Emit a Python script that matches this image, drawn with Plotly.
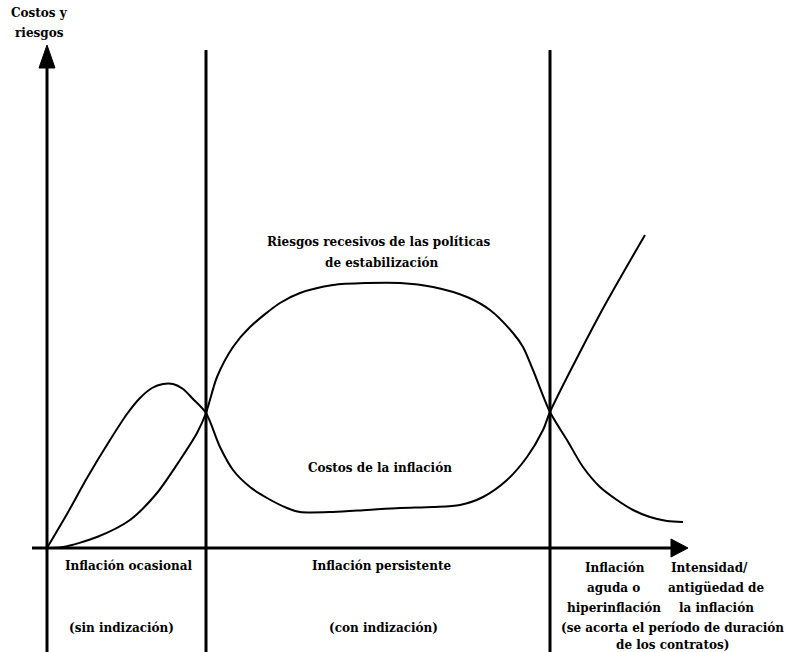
import plotly.graph_objects as go

# Curve values (x = intensity/age of inflation, y = costs and risks)
costos_x = [0, 20, 40, 63, 80, 93, 105, 116, 126, 136, 146, 159, 173, 186, 203, 220, 240, 253, 286, 320, 353, 386, 413, 436, 460, 480, 496, 503, 553, 598]
costos_y = [0, 34, 70, 108, 134, 150, 160, 164, 164, 159, 149, 135, 101, 78, 61, 50, 40, 36, 36, 38, 40, 41, 43, 51, 68, 91, 118, 136, 234, 313]

riesgos_x = [0, 16, 50, 83, 110, 133, 150, 159, 170, 186, 203, 233, 253, 286, 320, 353, 386, 420, 443, 466, 476, 486, 503, 520, 536, 553, 570, 586, 603, 620, 636]
riesgos_y = [0, 1, 11, 28, 55, 88, 115, 135, 171, 201, 221, 245, 255, 263, 265, 265, 261, 251, 238, 215, 201, 178, 136, 108, 81, 61, 48, 38, 31, 27, 26]

# Stage boundaries on the x axis
boundaries = [159, 503]

# Text labels, one entry per line: (text, x, y)
labels = [
    ("Costos y", -8, 535),
    ("riesgos", -8, 515),
    ("Riesgos recesivos de las políticas", 332, 306),
    ("de estabilización", 334, 285),
    ("Costos de la inflación", 333, 80),
    ("Inflación ocasional", 82, -18),
    ("Inflación persistente", 334, -18),
    ("(sin indización)", 74, -80),
    ("(con indización)", 336, -80),
    ("Inflación", 568, -20),
    ("aguda o", 566, -40),
    ("hiperinflación", 567, -60),
    ("Intensidad/", 662, -20),
    ("antigüedad de", 669, -40),
    ("la inflación", 669, -60),
    ("(se acorta el período de duración", 625, -80),
    ("de los contratos)", 625, -97),
]

fig = go.Figure()
fig.add_trace(go.Scatter(x=costos_x, y=costos_y, mode="lines",
                         line=dict(color="black", width=2, shape="spline", smoothing=0.8),
                         hoverinfo="skip", showlegend=False))
fig.add_trace(go.Scatter(x=riesgos_x, y=riesgos_y, mode="lines",
                         line=dict(color="black", width=2, shape="spline", smoothing=0.8),
                         hoverinfo="skip", showlegend=False))

shapes = []
# axes
shapes.append(dict(type="line", x0=-15, y0=0, x1=628, y1=0, line=dict(color="black", width=3)))
shapes.append(dict(type="line", x0=0, y0=-104, x1=0, y1=485, line=dict(color="black", width=3)))
for b in boundaries:
    shapes.append(dict(type="line", x0=b, y0=-104, x1=b, y1=498, line=dict(color="black", width=3)))
# arrowheads
shapes.append(dict(type="path", path="M -8 480 L 0 503 L 8 480 Z", fillcolor="black", line=dict(color="black", width=1)))
shapes.append(dict(type="path", path="M 624 -9 L 641 0 L 624 9 Z", fillcolor="black", line=dict(color="black", width=1)))

annotations = []
for text, x, y in labels:
    annotations.append(dict(text=text, x=x, y=y, xref="x", yref="y", showarrow=False,
                            xanchor="center", yanchor="middle", align="center",
                            font=dict(family="DejaVu Serif", size=12, color="black", weight="bold")))

fig.update_layout(
    width=804, height=652,
    margin=dict(l=0, r=0, t=0, b=0),
    paper_bgcolor="white", plot_bgcolor="white",
    xaxis=dict(range=[-47, 757], visible=False, fixedrange=True),
    yaxis=dict(range=[-104, 548], visible=False, fixedrange=True),
    shapes=shapes, annotations=annotations,
    showlegend=False,
)

fig.write_html("out.html", config={"displayModeBar": False},
               post_script="document.body.style.margin='0px';document.body.style.padding='0px';")
